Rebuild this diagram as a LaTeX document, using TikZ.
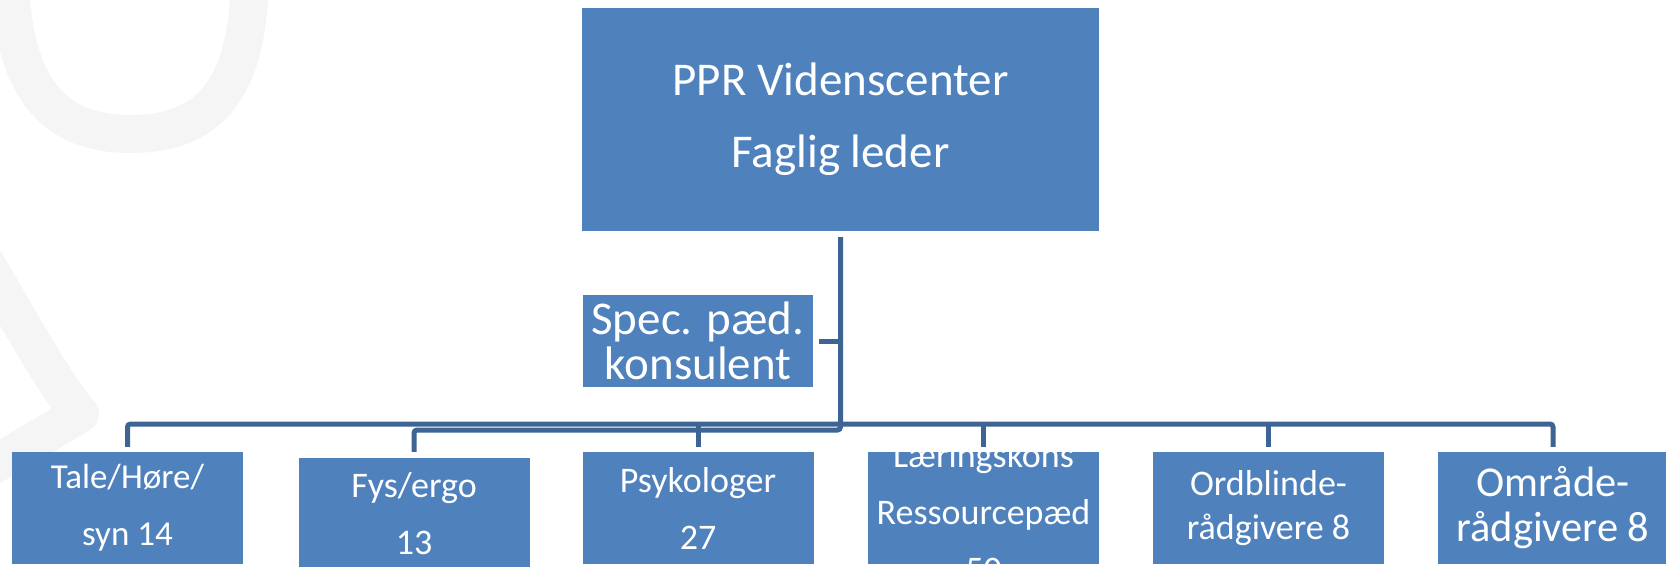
\documentclass[tikz,border=0pt]{standalone}
\usepackage{fontspec}
\setmainfont{Carlito}
\definecolor{boxblue}{RGB}{79,129,189}
\definecolor{lineblue}{RGB}{62,100,148}
\definecolor{markgray}{RGB}{245,245,245}
\tikzset{
    box/.style={fill=boxblue, text=white, inner sep=0pt, align=center,
        minimum width=231pt, minimum height=112pt},
    conn/.style={draw=lineblue, line width=5pt, rounded corners=3pt},
    logo/.style={draw=markgray, line width=38pt, line cap=round, line join=round}
}

\begin{document}
\begin{tikzpicture}[x=1pt, y=-1pt]

    \useasboundingbox (0,0) rectangle (1666,566);

    % faint logo behind the chart
    \draw[logo] (10,-30) .. controls (10,95) and (60,134) .. (130,134) .. controls (205,134) and (250,95) .. (250,-30);
    \draw[logo] (-15,262) .. controls (25,330) and (55,385) .. (80,414) -- (-15,470);

    \node[box, minimum width=517pt, minimum height=223pt, font=\fontsize{47pt}{72pt}\selectfont] (ppr) at (840.5,119.5) {PPR Videnscenter\\Faglig leder};
    \node[box, minimum width=230pt, minimum height=92pt, font=\fontsize{47pt}{45pt}\selectfont] (spec) at (698,341) {Spec. pæd.\\konsulent};

    \node[box, font=\fontsize{35pt}{57pt}\selectfont] (tale) at (127.5,508) {Tale/Høre/\\syn 14};
    \node[box, font=\fontsize{36pt}{57pt}\selectfont] (fys) at (414,514) {Fys/ergo\\13};
    \node[box, font=\fontsize{36pt}{57pt}\selectfont] (psyk) at (698,508) {Psykologer\\27};
    % text runs out of the box at both ends
    \node[box, font=\fontsize{36pt}{57pt}\selectfont] (laer) at (983.5,508)
        {\raisebox{-17pt}[112pt][0pt]{\begin{tabular}[b]{@{}c@{}}Læringskons\\Ressourcepæd\\50\end{tabular}}};
    \node[box, font=\fontsize{36pt}{44pt}\selectfont] (ordb) at (1268.5,508) {Ordblinde-\\rådgivere 8};
    \node[box, font=\fontsize{42.5pt}{45pt}\selectfont] (omr) at (1553,508) {Område-\\rådgivere 8};

    \coordinate (bus) at (0,424);
    \coordinate (low) at (0,430);

    \draw[conn, shorten <=5pt, shorten >=5pt] (tale.north) -- (tale.north |- bus) -- (omr.north |- bus) -- (omr.north);
    \foreach \n in {psyk,laer,ordb}
    {
        \draw[conn, shorten <=5pt] (\n.north) -- (\n.north |- bus);
    }
    \draw[conn, shorten <=6pt, shorten >=6pt] (ppr.south) -- (ppr.south |- low) -| (fys.north);
    \draw[conn, shorten <=6pt] (spec.east) -- (spec.east -| ppr.south);

\end{tikzpicture}
\end{document}
